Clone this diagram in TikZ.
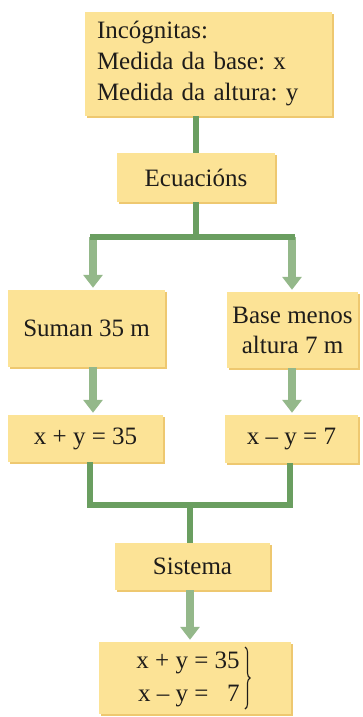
\documentclass[tikz,border=0pt]{standalone}
\usepackage{fontspec}
\setmainfont{Liberation Serif}
\frenchspacing
\usetikzlibrary{arrows.meta,shadows,decorations.pathreplacing}
\definecolor{boxfill}{RGB}{252,227,150}
\definecolor{boxshade}{RGB}{238,200,112}
\definecolor{lineg}{RGB}{106,158,96}
\definecolor{arrowg}{RGB}{148,184,138}
\definecolor{ink}{RGB}{30,28,26}
\tikzset{
  box/.style={fill=boxfill, draw=none, inner sep=0pt, align=center, text=ink,
    font=\fontsize{25}{30}\selectfont,
    general shadow={shadow xshift=1.6pt, shadow yshift=-1.8pt, fill=boxshade}},
  gline/.style={draw=lineg, line width=6pt, line cap=rect, line join=miter},
  garrow/.style={draw=arrowg, line width=8pt,
    -{Triangle[width=19pt,length=13pt]}, shorten >=2pt},
  bracestyle/.style={draw=ink, line width=1.1pt, decorate,
    decoration={brace, amplitude=5pt}}
}
\begin{document}
\begin{tikzpicture}[x=1pt,y=-1pt]
\useasboundingbox (0,0) rectangle (363,717);
% boxes
\node[box, minimum width=247pt, minimum height=104pt, text width=223pt, align=left,
      font=\fontsize{25}{31}\selectfont] (top) at (208.5,64)
  {Incógnitas:\\Medida da base: x\\Medida da altura: y};
\node[box, minimum width=158pt, minimum height=49pt] (ecu) at (196,177.5) {Ecuacións};
\node[box, minimum width=157pt, minimum height=77pt] (suman) at (86.5,328.5) {Suman 35 m};
\node[box, minimum width=131pt, minimum height=76pt] (base) at (292.5,330) {Base menos\\altura 7 m};
\node[box, minimum width=155pt, minimum height=47pt] (eq1) at (85.5,438.5) {x + y = 35};
\node[box, minimum width=133pt, minimum height=48pt] (eq2) at (291.5,439) {x – y = 7};
\node[box, minimum width=155pt, minimum height=47pt] (sis) at (192.5,566.5) {Sistema};
\node[box, minimum width=192pt, minimum height=72pt] (fin) at (195,678)
  {\renewcommand\arraystretch{1.1}\begin{tabular}{@{}r@{ = }r@{}}x + y & 35\\ x – y & 7\end{tabular}\hspace*{14pt}};
\draw[bracestyle] ([xshift=50pt,yshift=31pt]fin.center) -- ([xshift=50pt,yshift=-31pt]fin.center);
% coordinates
\coordinate (split) at (196,237);
\coordinate (sl) at (93,237);
\coordinate (sr) at (292,237);
\coordinate (jl) at (90,505);
\coordinate (jr) at (290,505);
\coordinate (jc) at (190,505);
% connectors
\draw[gline, line cap=butt] (top.south -| ecu.north) -- (ecu.north);
\draw[garrow] (sl) -- (suman.north -| sl);
\draw[garrow] (sr) -- (base.north -| sr);
\draw[gline, line cap=butt] (ecu.south) -- (split);
\draw[gline] (sl) -- (sr);
\draw[garrow] (suman.south -| sl) -- (eq1.north -| sl);
\draw[garrow] (base.south -| sr) -- (eq2.north -| sr);
\draw[gline, line cap=butt] (eq1.south -| jl) -- (jl) -- (jr) -- (eq2.south -| jr);
\draw[gline, line cap=butt] (jc) -- (sis.north -| jc);
\draw[garrow] (sis.south -| jc) -- (fin.north -| jc);
\end{tikzpicture}
\end{document}
